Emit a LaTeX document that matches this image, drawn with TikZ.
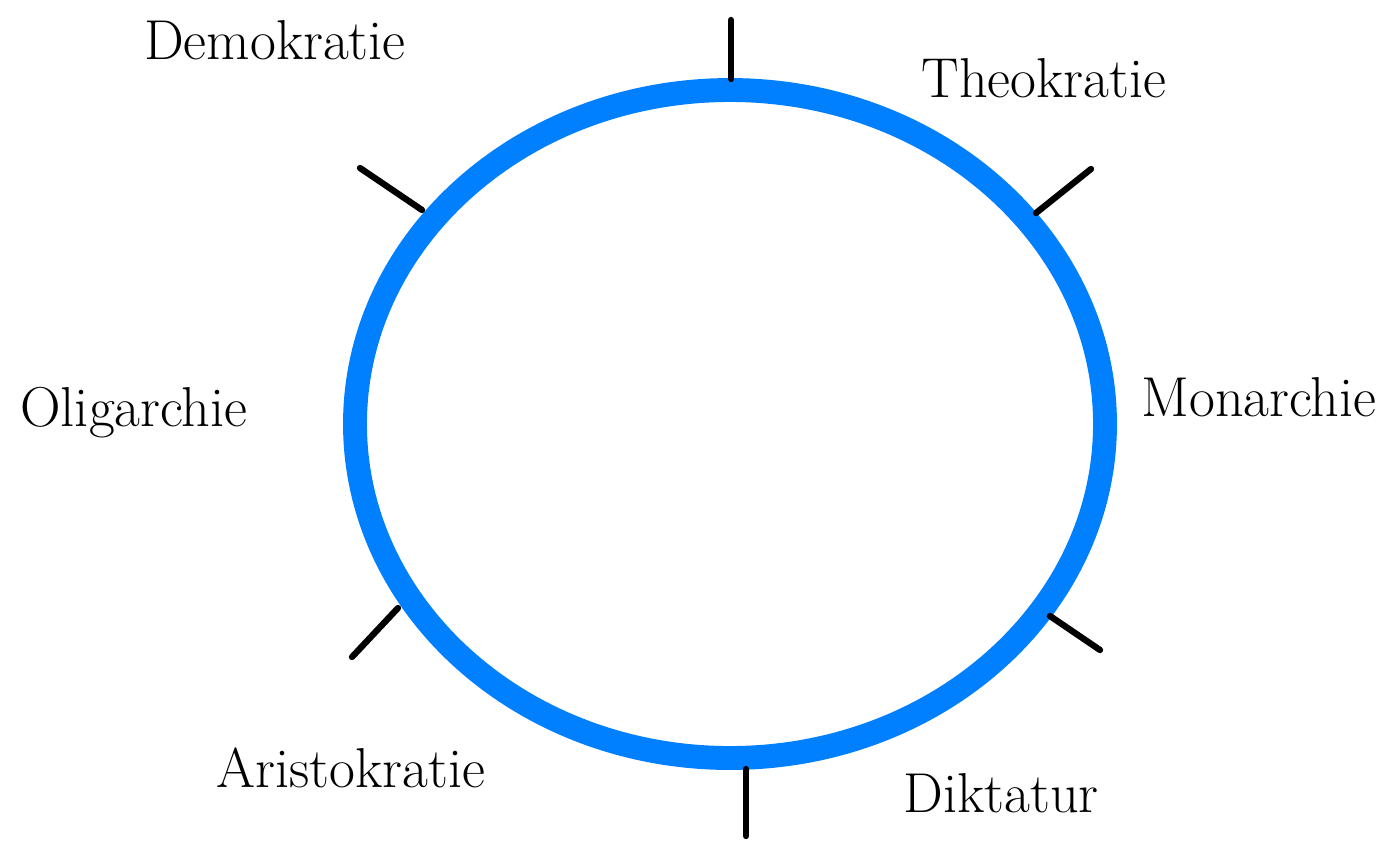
\documentclass[tikz,border=0pt]{standalone}
\usepackage{tikz}
\definecolor{ringblue}{RGB}{0, 128, 255}

\begin{document}
\begin{tikzpicture}[x=0.02cm, y=-0.02cm]
	\def\cx{730}
	\def\cy{424}
	\tikzset{
		ring/.style={draw=ringblue, line width=13.6pt},
		tick/.style={black, line width=3.6pt, line cap=round},
		label/.style={font=\fontsize{32}{38}\selectfont, inner sep=0pt}
	}
	\useasboundingbox (0, 0) rectangle (1386, 840);

	% --- Ring ---
	\draw[ring] (\cx, \cy) ellipse [x radius=375, y radius=334];

	% --- Ticks ---
	\draw[tick] (731, 20) -- (731, 79);
	\draw[tick] (1036, 213) -- (1091, 169);
	\draw[tick] (1050, 616) -- (1100, 650);
	\draw[tick] (746, 769) -- (746, 836);
	\draw[tick] (398, 608) -- (352, 657);
	\draw[tick] (422, 210) -- (360, 168);

	% --- Labels ---
	\node[label] (demo) at (275, 40) {Demokratie};
	\node[label] (theo) at (1044, 78) {Theokratie};
	\node[label] (mon) at (1259, 397) {Monarchie};
	\node[label] (oli) at (134, 413) {Oligarchie};
	\node[label] (ari) at (351, 768) {Aristokratie};
	\node[label] (dik) at (1001, 793) {Diktatur};
\end{tikzpicture}
\end{document}
